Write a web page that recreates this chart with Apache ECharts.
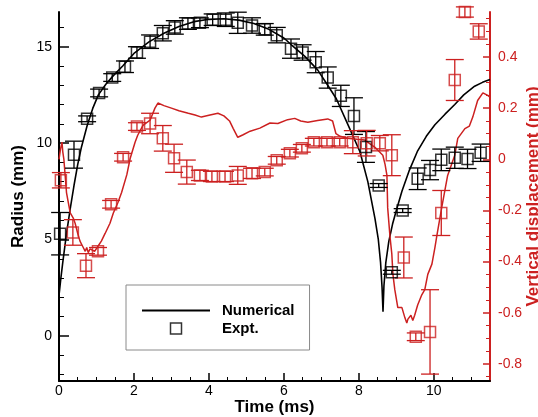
<!DOCTYPE html>
<html>
<head>
<meta charset="utf-8">
<script src="https://cdn.jsdelivr.net/npm/echarts@6/dist/echarts.min.js"></script>
<style>
html,body{margin:0;padding:0;background:#fff;}
#chart{width:538px;height:417px;}
</style>
</head>
<body>
<div id="chart"></div>
<script>
// ---- Numerical radius (black line, left axis) ----
const numTime   = [0, 0.05, 0.1, 0.2, 0.3, 0.4, 0.5, 0.6, 0.75, 0.9, 1.05, 1.25, 1.45, 1.7, 2.0, 2.4, 2.8, 3.2, 3.6, 4.0, 4.4, 4.8, 5.2, 5.6, 6.0, 6.2, 6.56, 6.9, 7.17, 7.4, 7.7, 8.03, 8.24, 8.43, 8.52, 8.58, 8.62, 8.645, 8.67, 8.72, 8.8, 8.9, 9.0, 9.15, 9.35, 9.57, 9.8, 10.03, 10.3, 10.56, 10.8, 11.09, 11.3, 11.5];
const numRadius = [2.1, 3.0, 3.8, 5.3, 6.6, 7.8, 8.9, 9.8, 10.9, 11.8, 12.5, 13.05, 13.5, 14.0, 14.65, 15.25, 15.7, 16.05, 16.3, 16.42, 16.45, 16.38, 16.2, 15.9, 15.45, 15.1, 14.5, 13.8, 13.0, 12.3, 11.0, 9.55, 8.0, 6.1, 5.0, 3.8, 2.5, 1.25, 2.6, 3.8, 4.9, 5.8, 6.5, 7.5, 8.6, 9.6, 10.35, 10.95, 11.5, 12.0, 12.5, 12.95, 13.15, 13.3];

// ---- Experimental radius (black squares, left axis) ----
const exptTime      = [0.03, 0.4, 0.75, 1.07, 1.42, 1.76, 2.08, 2.43, 2.77, 3.09, 3.44, 3.76, 4.1, 4.45, 4.77, 5.15, 5.49, 5.81, 6.19, 6.5, 6.85, 7.17, 7.52, 7.87, 8.19, 8.53, 8.88, 9.17, 9.57, 9.9, 10.2, 10.56, 10.9, 11.25];
const exptRadius    = [5.3, 9.4, 11.26, 12.6, 13.4, 13.96, 14.7, 15.26, 15.7, 16.0, 16.2, 16.24, 16.4, 16.4, 16.24, 16.1, 15.9, 15.6, 14.9, 14.7, 14.2, 13.4, 12.45, 11.4, 9.8, 7.8, 3.3, 6.5, 8.15, 8.6, 9.13, 9.24, 9.18, 9.5];
const exptRadiusErr = [1.1, 0.7, 0.15, 0.2, 0.2, 0.3, 0.3, 0.35, 0.4, 0.35, 0.3, 0.25, 0.3, 0.35, 0.55, 0.4, 0.3, 0.4, 0.5, 0.4, 0.55, 0.55, 0.55, 0.95, 0.8, 0.1, 0.1, 0.1, 0.56, 0.5, 0.56, 0.55, 0.5, 0.45];

// ---- Numerical vertical displacement (red line, right axis) ----
const dispNumTime = [0, 0.04, 0.08, 0.1, 0.13, 0.2, 0.25, 0.3, 0.38, 0.43, 0.5, 0.56, 0.63, 0.7, 0.74, 0.78, 0.83, 0.88, 0.95, 1.04, 1.13, 1.23, 1.36, 1.45, 1.57, 1.67, 1.81, 1.9, 2.03, 2.1, 2.24, 2.43, 2.56, 2.64, 2.8, 3.0, 3.2, 3.45, 3.63, 3.8, 4.0, 4.24, 4.4, 4.55, 4.65, 4.77, 4.9, 5.1, 5.36, 5.63, 5.84, 6.1, 6.29, 6.45, 6.64, 6.9, 7.17, 7.3, 7.39, 7.5, 7.7, 7.95, 8.16, 8.3, 8.43, 8.64, 8.7, 8.75, 8.77, 8.83, 8.88, 8.91, 8.96, 9.04, 9.15, 9.23, 9.28, 9.31, 9.39, 9.44, 9.49, 9.57, 9.68, 9.76, 9.84, 9.95, 10.03, 10.08, 10.21, 10.37, 10.56, 10.64, 10.83, 10.95, 11.04, 11.17, 11.31, 11.44, 11.5];
const dispNum     = [0.0, 0.04, 0.067, 0.03, 0.0, -0.13, -0.17, -0.21, -0.23, -0.25, -0.29, -0.32, -0.34, -0.36, -0.345, -0.365, -0.35, -0.35, -0.36, -0.34, -0.32, -0.29, -0.25, -0.21, -0.17, -0.13, -0.06, 0.004, 0.067, 0.094, 0.133, 0.153, 0.2, 0.22, 0.21, 0.2, 0.19, 0.18, 0.173, 0.165, 0.172, 0.18, 0.17, 0.15, 0.12, 0.086, 0.095, 0.11, 0.122, 0.142, 0.14, 0.155, 0.16, 0.15, 0.145, 0.152, 0.158, 0.15, 0.10, 0.09, 0.082, 0.078, 0.075, 0.06, 0.047, 0.016, -0.02, -0.063, -0.19, -0.3, -0.37, -0.45, -0.51, -0.58, -0.58, -0.62, -0.64, -0.625, -0.61, -0.63, -0.61, -0.57, -0.53, -0.51, -0.45, -0.41, -0.345, -0.30, -0.19, -0.063, 0.016, 0.082, 0.12, 0.13, 0.165, 0.23, 0.26, 0.25, 0.243];

// ---- Experimental vertical displacement (red squares, right axis) ----
const dispExptTime = [0.05, 0.37, 0.72, 1.04, 1.39, 1.71, 2.08, 2.43, 2.77, 3.07, 3.41, 3.76, 4.08, 4.43, 4.77, 5.15, 5.49, 5.81, 6.16, 6.48, 6.8, 7.15, 7.49, 7.84, 8.21, 8.56, 8.88, 9.2, 9.52, 9.9, 10.2, 10.56, 10.83, 11.2];
const dispExpt     = [-0.082, -0.286, -0.416, -0.36, -0.176, 0.008, 0.128, 0.14, 0.082, 0.004, -0.05, -0.063, -0.067, -0.067, -0.063, -0.055, -0.05, -0.004, 0.024, 0.043, 0.067, 0.067, 0.067, 0.067, 0.063, 0.063, 0.016, -0.384, -0.694, -0.675, -0.21, 0.31, 0.576, 0.5];
const dispExptErr  = [0.03, 0.05, 0.047, 0.015, 0.015, 0.015, 0.015, 0.04, 0.05, 0.055, 0.047, 0.02, 0.02, 0.02, 0.035, 0.02, 0.015, 0.015, 0.015, 0.015, 0.015, 0.015, 0.015, 0.045, 0.05, 0.03, 0.08, 0.08, 0.015, 0.165, 0.088, 0.08, 0.02, 0.03];

// ---- Tick labels / tick positions ----
const timeTicks    = [0, 2, 4, 6, 8, 10];
const timeMinor    = [0.5, 1, 1.5, 2.5, 3, 3.5, 4.5, 5, 5.5, 6.5, 7, 7.5, 8.5, 9, 9.5, 10.5, 11];
const radiusTicks  = [0, 5, 10, 15];
const radiusMinor  = [-2, -1, 1, 2, 3, 4, 6, 7, 8, 9, 11, 12, 13, 14, 16];
const dispTicks    = [-0.8, -0.6, -0.4, -0.2, 0, 0.2, 0.4];
const dispMinor    = [-0.85, -0.75, -0.7, -0.65, -0.55, -0.5, -0.45, -0.35, -0.3, -0.25, -0.15, -0.1, -0.05, 0.05, 0.1, 0.15, 0.25, 0.3, 0.35, 0.45, 0.5, 0.55];

const RED = '#cc2020';
const FONT = '"Liberation Sans", Arial, sans-serif';

function zip(a, b, c) { return a.map((v, i) => c ? [v, b[i], c[i]] : [v, b[i]]); }

function errBar(color) {
  return function (params, api) {
    const x = api.value(0), y = api.value(1), e = api.value(2);
    const hi = api.coord([x, y + e]);
    const lo = api.coord([x, y - e]);
    const hw = 9;
    const st = { stroke: color, lineWidth: 1.3 };
    return {
      type: 'group',
      children: [
        { type: 'line', shape: { x1: hi[0], y1: hi[1], x2: lo[0], y2: lo[1] }, style: st },
        { type: 'line', shape: { x1: hi[0] - hw, y1: hi[1], x2: hi[0] + hw, y2: hi[1] }, style: st },
        { type: 'line', shape: { x1: lo[0] - hw, y1: lo[1], x2: lo[0] + hw, y2: lo[1] }, style: st }
      ]
    };
  };
}

const chart = echarts.init(document.getElementById('chart'), null, { renderer: 'canvas' });

const baseLabel = { fontFamily: FONT, fontSize: 14 };

chart.setOption({
  animation: false,
  backgroundColor: '#fff',
  textStyle: { fontFamily: FONT },
  grid: { left: 59, right: 48, top: 12, bottom: 36, containLabel: false, outerBoundsMode: 'none' },
  legend: {
    left: 126, top: 285,
    orient: 'vertical',
    selectedMode: false,
    backgroundColor: '#fff',
    borderColor: '#8a8a8a',
    borderWidth: 1,
    borderRadius: 0,
    padding: [18, 15, 14, 16],
    itemWidth: 68,
    itemHeight: 11,
    itemGap: 3,
    symbolKeepAspect: true,
    textStyle: { fontFamily: FONT, fontSize: 15, fontWeight: 'bold', color: '#000', padding: [0, 0, 0, 7] },
    data: [
      { name: 'Numerical', icon: 'path://M0,0L68,0L68,2L0,2Z', itemStyle: { color: '#000', borderWidth: 0 } },
      { name: 'Expt.', icon: 'path://M0,0L10,0L10,10L0,10Z', itemStyle: { color: '#fff', borderColor: '#000', borderWidth: 1.5 } }
    ]
  },
  xAxis: [
    {
      type: 'value', min: 0, max: 11.5, position: 'bottom',
      axisLine: { show: true, onZero: false, lineStyle: { color: '#000', width: 2 } },
      axisTick: { show: true, inside: true, length: 8, customValues: timeTicks, lineStyle: { color: '#000', width: 1.5 } },
      axisLabel: Object.assign({ show: true, customValues: timeTicks, color: '#000', margin: 3 }, baseLabel),
      splitLine: { show: false },
      name: 'Time (ms)', nameLocation: 'middle', nameGap: 18, nameMoveOverlap: false,
      nameTextStyle: { fontFamily: FONT, fontSize: 17, fontWeight: 'bold', color: '#000' }
    },
    {
      type: 'value', min: 0, max: 11.5, position: 'bottom',
      axisLine: { show: false, onZero: false },
      axisTick: { show: true, inside: true, length: 4, customValues: timeMinor, lineStyle: { color: '#000', width: 1 } },
      axisLabel: { show: false },
      splitLine: { show: false }
    }
  ],
  yAxis: [
    {
      type: 'value', min: -2.34, max: 16.8, position: 'left',
      axisLine: { show: true, onZero: false, lineStyle: { color: '#000', width: 2 } },
      axisTick: { show: true, inside: true, length: 10, customValues: radiusTicks, lineStyle: { color: '#000', width: 1.5 } },
      axisLabel: Object.assign({ show: true, customValues: radiusTicks, color: '#000', margin: 7 }, baseLabel),
      splitLine: { show: false },
      name: 'Radius (mm)', nameLocation: 'middle', nameGap: 32, nameMoveOverlap: false,
      nameTextStyle: { fontFamily: FONT, fontSize: 17, fontWeight: 'bold', color: '#000' }
    },
    {
      type: 'value', min: -0.867, max: 0.576, position: 'right',
      axisLine: { show: true, onZero: false, lineStyle: { color: RED, width: 2 } },
      axisTick: { show: true, inside: true, length: 7, customValues: dispTicks, lineStyle: { color: RED, width: 1.5 } },
      axisLabel: Object.assign({ show: true, customValues: dispTicks, color: RED, margin: 8 }, baseLabel),
      splitLine: { show: false },
      name: 'Vertical displacement (mm)', nameLocation: 'middle', nameGap: 35, nameMoveOverlap: false,
      nameTextStyle: { fontFamily: FONT, fontSize: 17, fontWeight: 'bold', color: RED }
    },
    {
      type: 'value', min: -2.34, max: 16.8, position: 'left',
      axisLine: { show: false, onZero: false },
      axisTick: { show: true, inside: true, length: 5, customValues: radiusMinor, lineStyle: { color: '#000', width: 1 } },
      axisLabel: { show: false },
      splitLine: { show: false }
    },
    {
      type: 'value', min: -0.867, max: 0.576, position: 'right',
      axisLine: { show: false, onZero: false },
      axisTick: { show: true, inside: true, length: 4, customValues: dispMinor, lineStyle: { color: RED, width: 1 } },
      axisLabel: { show: false },
      splitLine: { show: false }
    }
  ],
  series: [
    {
      name: 'Numerical', type: 'line', xAxisIndex: 0, yAxisIndex: 0,
      data: zip(numTime, numRadius), symbol: 'none', showSymbol: false,
      lineStyle: { color: '#000', width: 1.6 }, itemStyle: { color: '#000' }, z: 3
    },
    {
      name: 'dispNum', type: 'line', xAxisIndex: 0, yAxisIndex: 1,
      data: zip(dispNumTime, dispNum), symbol: 'none', showSymbol: false,
      lineStyle: { color: RED, width: 1.5 }, itemStyle: { color: RED }, z: 3
    },
    {
      name: 'exptErr', type: 'custom', xAxisIndex: 0, yAxisIndex: 0,
      data: zip(exptTime, exptRadius, exptRadiusErr), renderItem: errBar('#000'), z: 4
    },
    {
      name: 'Expt.', type: 'scatter', xAxisIndex: 0, yAxisIndex: 0,
      data: zip(exptTime, exptRadius), symbol: 'rect', symbolSize: 11, clip: false,
      itemStyle: { color: 'rgba(0,0,0,0)', borderColor: '#000', borderWidth: 1.5 }, z: 5
    },
    {
      name: 'dispErr', type: 'custom', xAxisIndex: 0, yAxisIndex: 1,
      data: zip(dispExptTime, dispExpt, dispExptErr), renderItem: errBar(RED), z: 4
    },
    {
      name: 'dispExpt', type: 'scatter', xAxisIndex: 0, yAxisIndex: 1,
      data: zip(dispExptTime, dispExpt), symbol: 'rect', symbolSize: 11, clip: false,
      itemStyle: { color: 'rgba(0,0,0,0)', borderColor: RED, borderWidth: 1.5 }, z: 5
    }
  ]
});
</script>
</body>
</html>
